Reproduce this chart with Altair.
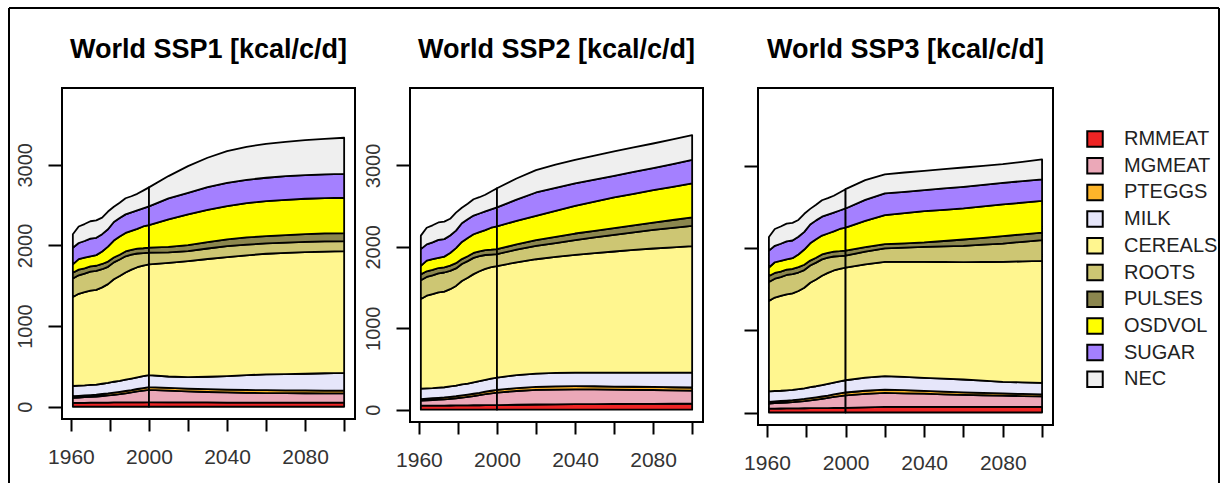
import altair as alt
import pandas as pd

SERIES = ["RMMEAT", "MGMEAT", "PTEGGS", "MILK", "CEREALS", "ROOTS", "PULSES", "OSDVOL", "SUGAR", "NEC"]
COLORS = ["#EE2424", "#EBA8B8", "#FDB52A", "#E6E6FA", "#FFF68F", "#CDC673", "#8B864E", "#FFFF00", "#A480FF", "#EFEFEF"]

HIST_YEARS = [1961, 1964, 1967, 1970, 1973, 1976, 1979, 1982, 1985, 1988, 1991, 1994, 1997, 2000]
PROJ_YEARS = [2000, 2010, 2020, 2030, 2040, 2050, 2060, 2070, 2080, 2090, 2100]

HIST = {
    "RMMEAT":  [48, 48, 49, 50, 50, 51, 52, 53, 53, 54, 54, 55, 55, 56],
    "MGMEAT":  [62, 66, 69, 72, 77, 82, 88, 95, 104, 113, 124, 135, 145, 154],
    "PTEGGS":  [20, 21, 22, 23, 23, 25, 25, 27, 28, 28, 27, 30, 32, 34],
    "MILK":    [127, 127, 125, 125, 125, 127, 130, 135, 135, 140, 145, 145, 148, 149],
    "CEREALS": [1103, 1138, 1155, 1170, 1175, 1195, 1225, 1270, 1300, 1330, 1350, 1365, 1370, 1371],
    "ROOTS":   [230, 230, 230, 235, 235, 225, 215, 210, 205, 200, 185, 170, 155, 146],
    "PULSES":  [72, 70, 66, 65, 63, 65, 65, 60, 60, 60, 60, 60, 60, 62],
    "OSDVOL":  [104, 130, 132, 125, 132, 155, 185, 210, 225, 230, 235, 245, 270, 280],
    "SUGAR":   [206, 200, 207, 220, 215, 215, 215, 230, 230, 230, 230, 230, 225, 233],
    "NEC":     [166, 205, 210, 215, 215, 205, 220, 190, 190, 200, 200, 205, 220, 235],
}

SSP1 = {
    "RMMEAT":  [56, 55, 54, 53, 52, 51, 51, 50, 50, 50, 50],
    "MGMEAT":  [154, 145, 136, 130, 126, 122, 119, 118, 117, 116, 116],
    "PTEGGS":  [34, 35, 35, 35, 34, 35, 35, 35, 35, 35, 34],
    "MILK":    [149, 140, 143, 154, 168, 184, 196, 202, 207, 214, 221],
    "CEREALS": [1371, 1410, 1438, 1460, 1475, 1486, 1496, 1503, 1508, 1509, 1509],
    "ROOTS":   [146, 130, 124, 130, 137, 132, 128, 128, 128, 126, 124],
    "PULSES":  [62, 68, 74, 79, 82, 89, 91, 92, 95, 99, 99],
    "OSDVOL":  [280, 339, 380, 401, 414, 426, 434, 438, 439, 438, 438],
    "SUGAR":   [233, 261, 269, 281, 289, 289, 289, 294, 293, 293, 297],
    "NEC":     [235, 277, 330, 364, 392, 409, 421, 425, 434, 442, 447],
}

SSP2 = {
    "RMMEAT":  [56, 60, 63, 65, 67, 68, 69, 70, 71, 72, 73],
    "MGMEAT":  [154, 169, 179, 182, 183, 181, 176, 173, 170, 165, 161],
    "PTEGGS":  [34, 36, 37, 38, 38, 38, 38, 38, 38, 38, 38],
    "MILK":    [149, 160, 164, 166, 167, 168, 172, 174, 176, 180, 183],
    "CEREALS": [1371, 1385, 1405, 1425, 1447, 1468, 1488, 1507, 1525, 1539, 1553],
    "ROOTS":   [146, 155, 164, 171, 180, 193, 205, 217, 229, 240, 250],
    "PULSES":  [62, 65, 70, 77, 82, 81, 82, 86, 90, 96, 103],
    "OSDVOL":  [280, 290, 299, 319, 340, 360, 377, 387, 398, 408, 418],
    "SUGAR":   [233, 260, 287, 282, 275, 270, 266, 268, 270, 280, 291],
    "NEC":     [235, 260, 275, 285, 291, 295, 299, 302, 303, 304, 303],
}

SSP3 = {
    "RMMEAT":  [56, 62, 68, 68, 68, 68, 68, 68, 68, 68, 68],
    "MGMEAT":  [154, 166, 171, 166, 161, 154, 147, 142, 137, 132, 128],
    "PTEGGS":  [34, 37, 41, 38, 35, 32, 30, 28, 27, 26, 25],
    "MILK":    [149, 160, 163, 161, 158, 158, 157, 150, 142, 141, 139],
    "CEREALS": [1371, 1380, 1392, 1402, 1413, 1421, 1429, 1445, 1461, 1474, 1487],
    "ROOTS":   [146, 155, 163, 173, 183, 191, 199, 211, 223, 238, 252],
    "PULSES":  [62, 55, 52, 53, 53, 65, 77, 84, 90, 91, 93],
    "OSDVOL":  [280, 320, 354, 367, 381, 380, 378, 382, 386, 386, 386],
    "SUGAR":   [233, 255, 264, 260, 256, 260, 264, 263, 263, 262, 260],
    "NEC":     [235, 240, 231, 235, 236, 235, 235, 231, 228, 234, 244],
}

X_TICKS = [1960, 1980, 2000, 2020, 2040, 2060, 2080, 2100]
Y_TICKS = [0, 1000, 2000, 3000]


def build(proj):
    rows = []
    for period, years, vals in (("hist", HIST_YEARS, HIST), ("proj", PROJ_YEARS, proj)):
        for i, yr in enumerate(years):
            base = 0
            for s in SERIES:
                v = vals[s][i]
                rows.append(dict(year=yr, series=s, key=period + "_" + s, y0=base, y1=base + v))
                base += v
    return pd.DataFrame(rows)


LEGEND = alt.Legend(
    orient="none", legendX=1023, legendY=41, title=None, padding=0,
    symbolType="square", symbolSize=240, symbolStrokeColor="black",
    symbolStrokeWidth=2, symbolOpacity=1,
    labelFontSize=20, labelFont="Liberation Sans", labelColor="#222222",
    labelOffset=19, rowPadding=2.7,
)

ONE = pd.DataFrame({"a": [0]})


def panel(name, proj, w, h, ylabels=True, frame=False):
    df = build(proj)
    x = alt.X("year:Q",
              scale=alt.Scale(domain=[1955.44, 2105.56], nice=False, zero=False),
              axis=alt.Axis(values=X_TICKS, format="d", title=None, tickSize=12,
                            labelPadding=15, labelFlush=False, labelOverlap=False,
                            labelFontSize=21,
                            labelExpr="datum.value % 40 == 0 ? datum.label : ''"))
    y = alt.Y("y1:Q",
              scale=alt.Scale(domain=[-152, 3952], nice=False, zero=False),
              axis=alt.Axis(values=Y_TICKS, format="d", title=None, labelAngle=270,
                            labelAlign="center", labelBaseline="bottom", tickSize=14,
                            labelPadding=13, labels=ylabels))
    area = alt.Chart(df).mark_area(stroke="black", strokeWidth=1.8, opacity=1,
                                   strokeJoin="round").encode(
        x=x, y=y, y2="y0:Q",
        color=alt.Color("series:N", scale=alt.Scale(domain=SERIES, range=COLORS), legend=LEGEND),
        detail="key:N",
    )
    title = alt.Chart(ONE).mark_text(
        fontSize=27, fontWeight="bold", font="Liberation Sans", color="black",
        align="center", baseline="alphabetic",
    ).encode(x=alt.value(w / 2), y=alt.value(-30), text=alt.value(f"World {name} [kcal/c/d]"))
    layers = [area, title]
    if frame:
        base = alt.Chart(ONE).mark_rule(color="black", strokeWidth=2)
        layers.append(base.encode(x=alt.value(-53), y=alt.value(-80), y2=alt.value(395)))
        layers.append(base.encode(x=alt.value(-53), x2=alt.value(1157), y=alt.value(-80)))
        layers.append(base.encode(x=alt.value(1157), y=alt.value(-80), y2=alt.value(395)))
    return alt.layer(*layers).properties(width=w, height=h)


p1 = panel("SSP1", SSP1, 293, 331, frame=True)
p2 = panel("SSP2", SSP2, 293, 334)
p3 = panel("SSP3", SSP3, 295, 337, ylabels=False)

chart = alt.hconcat(p1, p2, p3, spacing=55, bounds="flush").properties(
    padding={"left": 7, "top": 6, "right": 0, "bottom": 0},
    background="white",
).configure_view(
    stroke="black", strokeWidth=2
).configure_axis(
    domain=False, grid=False, tickColor="black", tickWidth=2,
    labelColor="#333333", labelFont="Liberation Sans", labelFontSize=20,
)

chart.save("out.html", embed_options={"renderer": "svg", "actions": False})
